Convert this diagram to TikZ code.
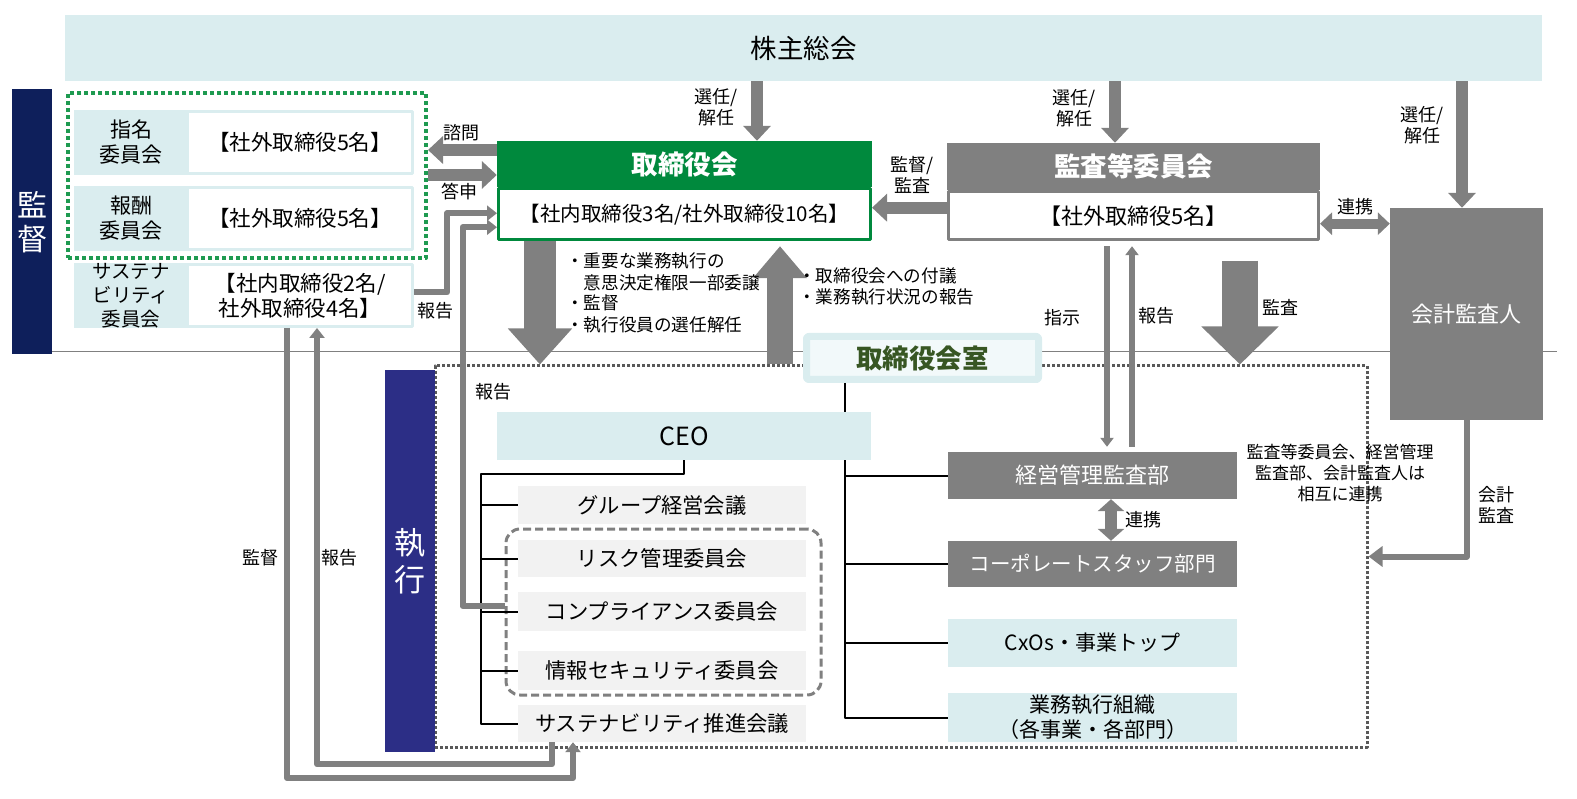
\documentclass[tikz,border=0pt]{standalone}
\usepackage{fontspec}
\setmainfont{Noto Sans CJK JP}
\usetikzlibrary{arrows.meta, calc, positioning}
\definecolor{kblue}{HTML}{DAEDEF}
\definecolor{kpale}{HTML}{F2F9FA}
\definecolor{knavy}{HTML}{0E1F5B}
\definecolor{kindigo}{HTML}{2C2E86}
\definecolor{kgreen}{HTML}{00893D}
\definecolor{kdots}{HTML}{1E9A50}
\definecolor{kolive}{HTML}{375623}
\definecolor{kgray}{HTML}{808080}
\definecolor{kdgray}{HTML}{595959}
\definecolor{klight}{HTML}{F2F2F2}
\tikzset{
  every picture/.style={line join=round},
  fs/.style 2 args={font=\fontsize{#1}{#2}\selectfont},
  % boxes
  bar/.style={text=white, fs={30}{34}},
  lbox/.style={fill=kblue},
  wbox/.style={draw=kblue, line width=3pt, fill=white},
  gbox/.style={fill=kgray, text=white},
  cbox/.style={fill=klight, minimum width=288, fs={21.3}{25}},
  ttl/.style={text=white, font=\fontsize{26.5}{30}\selectfont\bfseries},
  lbl/.style={fs={18}{21}},
  tree/.style={draw=black, line width=2pt},
  % gray arrows: shaft / head width / head length
  fat/.style args={#1/#2/#3}{draw=kgray, line width=#1, -{Triangle[width=#2, length=#3]}},
  sel/.style={fat={12pt/27pt/15pt}},
  dbl/.style args={#1/#2/#3}{draw=kgray, line width=#1, {Triangle[width=#2, length=#3]}-{Triangle[width=#2, length=#3]}},
  link/.style={draw=kgray, line width=6pt, -{Triangle[width=15pt, length=10pt]}},
}

\begin{document}
\begin{tikzpicture}[x=1pt, y=-1pt, every node/.append style={inner sep=0pt, align=center}]
  \useasboundingbox (0,0) rectangle (1577,799);
  \node[lbox, minimum width=1477, minimum height=66, fs={26.5}{30}] (share) at (803.5,48) {株主総会};
  \node[bar, fill=knavy, minimum width=40, minimum height=265, fs={30}{34}] (kantoku) at (32,222) {監\\督};
  \draw[kgray, line width=1pt] (kantoku.east |- 0,352) -- (1557,352);

  % supervision side committees
  \node[draw=kdots, line width=4pt, dash pattern=on 4pt off 3pt, minimum width=358, minimum height=165] (nomgrp) at (247,175.5) {};
  \foreach \n/\y/\l in {nom/142.5/{指名\\委員会}, rem/218.5/{報酬\\委員会}} {
    \node[lbox, minimum width=114, minimum height=65, fs={21}{25}] (\n-l) at (131,\y) {\l};
    \node[wbox, minimum width=225, minimum height=62, fs={21.5}{25}] (\n) at (300,\y) {【社外取締役5名】};
  }
  \node[lbox, minimum width=114, minimum height=65, fs={19.5}{24}] (sus-l) at (131,295.5) {サステナ\\ビリティ\\委員会};
  \node[wbox, minimum width=225, minimum height=62, fs={21.5}{25}] (sus) at (300,295.5) {【社内取締役2名/\\社外取締役4名】};

  % board and audit committee
  \node[fill=kgreen, ttl, minimum width=375, minimum height=46] (board) at (684.5,164) {取締役会};
  \node[draw=kgreen, line width=3pt, fill=white, minimum width=372, minimum height=51, fs={20.5}{24}, below=0pt of board] (boardb) {【社内取締役3名/社外取締役10名】};
  \node[fill=kgray, ttl, minimum width=373, minimum height=47] (kansa) at (1133.5,166.5) {監査等委員会};
  \node[draw=kgray, line width=3pt, fill=white, minimum width=370, minimum height=48, fs={22}{26}, below=0pt of kansa] (kansab) {【社外取締役5名】};
  \node[gbox, minimum width=153, minimum height=212, fs={22}{26}] (auditor) at (1466.5,314) {会計監査人};

  % execution side
  \node[draw=kdgray, line width=3pt, dash pattern=on 3pt off 2pt, minimum width=932, minimum height=381] (execbox) at (901,556.5) {};
  \node[bar, fill=kindigo, minimum width=50, minimum height=381, fs={31}{37}] (shikkou) at (410,561) {執\\行};
  \node[draw=kblue, line width=7pt, fill=kpale, rounded corners=2pt, minimum width=232, minimum height=43,
        text=kolive, font=\fontsize{26.5}{30}\selectfont\bfseries] (office) at (922.5,358) {取締役会室};
  \node[lbox, minimum width=374, minimum height=48, fs={25}{28}] (ceo) at (684,436) {CEO};
  \node[draw=kgray, line width=3pt, dash pattern=on 8pt off 4pt, rounded corners=14pt, minimum width=315, minimum height=166] (cgrp) at (663.5,612) {};
  \foreach \n/\y/\h/\t in {grp/505/38/グループ経営会議, risk/558.5/37/リスク管理委員会, comp/611.5/39/コンプライアンス委員会,
                           info/670.5/39/情報セキュリティ委員会, spc/723.5/37/サステナビリティ推進会議}
    \node[cbox, minimum height=\h] (\n) at (662,\y) {\t};
  \node[gbox, minimum width=289, minimum height=47, fs={22}{26}] (audit) at (1092.5,475.5) {経営管理監査部};
  \node[gbox, minimum width=289, minimum height=46, fs={20.5}{24}] (staff) at (1092.5,564) {コーポレートスタッフ部門};
  \node[lbox, minimum width=289, minimum height=48, fs={21}{25}] (cxo) at (1092.5,643) {CxOs・事業トップ};
  \node[lbox, minimum width=289, minimum height=49, fs={21}{25}] (org) at (1092.5,717.5) {業務執行組織\\（各事業・各部門）};

  % reporting lines
  \coordinate (trunk) at (481,474);
  \draw[tree] (ceo.south) |- (trunk) -- (trunk |- spc.west) -- (spc.west);
  \foreach \n in {grp,risk,comp,info} \draw[tree] (trunk |- \n.west) -- (\n.west);
  \coordinate (rtrunk) at (845,0);
  \draw[tree] (office.south -| rtrunk) -- (ceo.north -| rtrunk);
  \draw[tree] (ceo.south -| rtrunk) -- (org.west -| rtrunk) -- (org.west);
  \foreach \n in {audit,staff,cxo} \draw[tree] (\n.west -| rtrunk) -- (\n.west);

  % appointment / dismissal
  \coordinate (s1) at ([xshift=72.5pt]board.north);
  \coordinate (s2) at ([xshift=-18.5pt]kansa.north);
  \coordinate (s3) at ([xshift=-4.5pt]auditor.north);
  \foreach \c in {s1,s2,s3} \draw[sel] (share.south -| \c) -- (\c);
  \node[lbl] (sl1) at (716,107) {選任/\\解任};
  \node[lbl] (sl2) at (1074,108) {選任/\\解任};
  \node[lbl] (sl3) at (1422,125) {選任/\\解任};

  % board <-> committees
  \coordinate (q1) at ([yshift=14pt]board.west);
  \coordinate (q2) at ([yshift=-11pt]board.west);
  \draw[sel] (q1) -- (q1 -| nomgrp.east);
  \draw[sel] (q2 -| nomgrp.east) -- (q2);
  \node[lbl] (shimon) at (461,133) {諮問};
  \node[lbl] (toshin) at (459,192) {答申};
  \coordinate (m1) at ([yshift=8pt]kansab.west);
  \draw[sel] (m1) -- (m1 -| boardb.east);
  \node[lbl] (kk) at (912,175) {監督/\\監査};
  \coordinate (l1) at ([yshift=-8pt]kansab.east);
  \draw[dbl={10pt/22pt/12pt}] (l1) -- (l1 -| auditor.west);
  \node[lbl] (renkei1) at (1355,207) {連携};

  % board <-> execution
  \coordinate (d1) at ([xshift=-144.5pt]boardb.south);
  \draw[fat={32pt/62pt/36pt}] (d1) -- (d1 |- execbox.north);
  \coordinate (u1) at ([xshift=95.5pt]boardb.south);
  \draw[fat={26pt/52pt/32pt}, shorten >=5pt] (u1 |- execbox.north) -- (u1);
  \node[fs={17.6}{21}, align=left, anchor=north west] (dtxt) at (566,253)
    {・重要な業務執行の\\　意思決定権限一部委譲\\・監督\\・執行役員の選任解任};
  \node[fs={17.6}{21}, align=left, anchor=north west] (utxt) at (798,267)
    {・取締役会への付議\\・業務執行状況の報告};

  % audit committee -> execution
  \coordinate (i1) at ([xshift=-26.5pt]kansab.south);
  \coordinate (i2) at ([xshift=-1.5pt]kansab.south);
  \draw[link, -{Triangle[width=13pt, length=9pt]}, shorten <=5pt, shorten >=5pt] (i1) -- (i1 |- audit.north);
  \draw[link, -{Triangle[width=13pt, length=9pt]}, shorten <=5pt, shorten >=5pt] (i2 |- audit.north) -- (i2);
  \node[lbl] (shiji) at (1062,318) {指示};
  \node[lbl] (hokoku1) at (1156,316) {報告};
  \coordinate (a1) at ([xshift=106.5pt, yshift=-19.5pt]kansab.south);
  \draw[fat={36pt/75pt/38pt}] (a1) -- (a1 |- execbox.north);
  \node[lbl] (kansa2) at (1280,307) {監査};
  \draw[link, -{Triangle[width=20pt, length=14pt]}] (auditor.south) |- (execbox.east);
  \node[lbl] (kaikei) at (1496,505) {会計\\監査};
  \node[fs={17}{21}] (mutual) at (1340,473) {監査等委員会、経営管理\\監査部、会計監査人は\\相互に連携};
  \coordinate (c1) at ([xshift=18.5pt]audit.south);
  \draw[dbl={12pt/26pt/12pt}] (c1) -- (c1 |- staff.north);
  \node[lbl] (renkei2) at (1143,520) {連携};

  % reports back to the board
  \coordinate (r0) at ([yshift=3pt]sus.east);
  \coordinate (r1) at ([yshift=1pt]boardb.west);
  \coordinate (r2) at ([yshift=-13pt]boardb.west);
  \draw[link] (r0) -- ++(33,0) |- (r1);
  \coordinate (c0) at ([yshift=6pt]cgrp.west);
  \draw[link] (c0) -- ++(-42,0) |- (r2);
  \node[lbl] (hokoku2) at (435,311) {報告};
  \node[lbl] (hokoku3) at (493,392) {報告};

  % sustainability committee <-> promotion council
  \coordinate (k1) at ([xshift=-13pt]sus.south);
  \coordinate (k2) at ([xshift=-89pt]spc.south);
  \draw[link] (k1) -- ++(0,450) -| (k2);
  \coordinate (k3) at ([xshift=-110pt]spc.south);
  \coordinate (k4) at ([xshift=17pt]sus.south);
  \draw[link] (k3) -- ++(0,22) -| (k4);
  \node[lbl] (kantoku2) at (260,558) {監督};
  \node[lbl] (hokoku4) at (339,558) {報告};
\end{tikzpicture}
\end{document}
